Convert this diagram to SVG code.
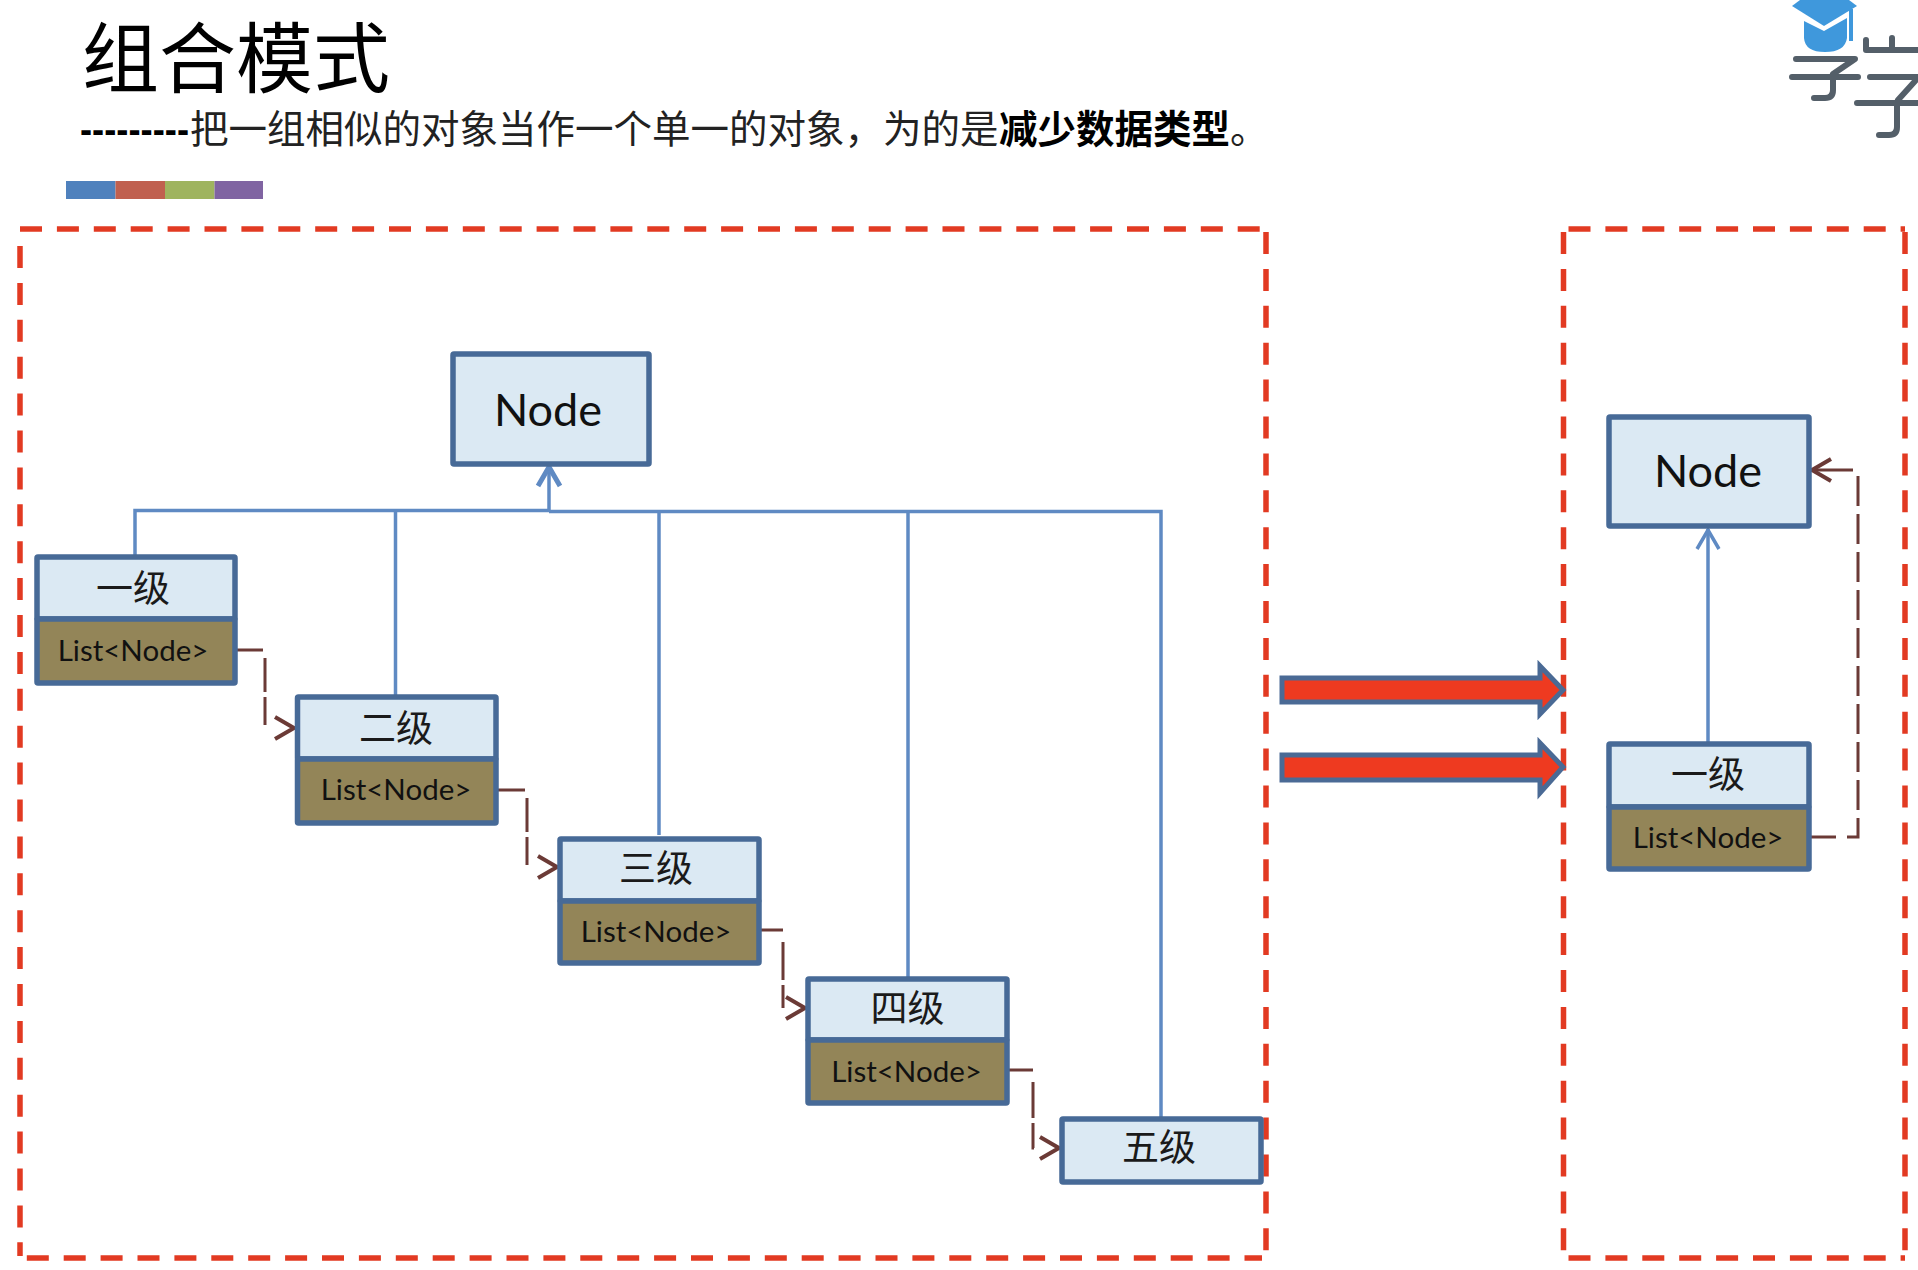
<svg xmlns="http://www.w3.org/2000/svg" width="1918" height="1270" viewBox="0 0 1918 1270">
<defs>
<style>
.bg{fill:#ffffff}
.box{fill:#dbe9f3;stroke:#476a97;stroke-width:5.5}
.list{fill:#938558;stroke:#476a97;stroke-width:5.5}
.cjk{font-family:"Noto Sans CJK SC","Noto Sans",sans-serif;font-size:37px;fill:#1a1a1a;text-anchor:middle;font-weight:400}
.lst{font-family:Lato,"Liberation Sans",sans-serif;font-size:29.500px;fill:#111;text-anchor:middle}
.nd{font-family:Lato,"Liberation Sans",sans-serif;font-size:45px;fill:#111;text-anchor:middle}
.red{fill:none;stroke:#e23a22;stroke-width:5.500;stroke-dasharray:22 14.9}
.blue{fill:none;stroke:#5f8ac3;stroke-width:3.500}
.brown{fill:none;stroke:#6b3a36;stroke-width:3}
.bar{fill:#ee3a20;stroke:#4a6a95;stroke-width:5}
.gr{fill:none;stroke:#545f69;stroke-width:6;stroke-linecap:round;stroke-linejoin:round}
</style>
<marker id="ab" markerUnits="userSpaceOnUse" markerWidth="30" markerHeight="30" refX="24" refY="14" orient="auto"><path d="M4 3 L23 14 L4 25" fill="none" stroke="#6b3a36" stroke-width="4"/></marker>
<marker id="au" markerUnits="userSpaceOnUse" markerWidth="30" markerHeight="30" refX="24" refY="14" orient="auto"><path d="M4 3 L23 14 L4 25" fill="none" stroke="#5f8ac3" stroke-width="3.500"/></marker>
<marker id="aut" markerUnits="userSpaceOnUse" markerWidth="30" markerHeight="30" refX="24" refY="14" orient="auto"><path d="M4 3 L23 14 L4 25" fill="none" stroke="#5f8ac3" stroke-width="5"/></marker>
</defs>
<rect class="bg" width="1918" height="1270"/>

<g id="title">
<text x="82" y="87" font-family="'Noto Sans CJK SC',sans-serif" font-size="77" fill="#000">组合模式</text>
<text y="143" font-family="'Noto Sans CJK SC',sans-serif" font-size="38.500" fill="#222"><tspan x="80" font-family="'Liberation Sans',sans-serif" font-weight="700" textLength="109" lengthAdjust="spacingAndGlyphs" fill="#000">---------</tspan><tspan x="190">把一组相似的对象当作一个单一的对象，为的是</tspan><tspan x="999" font-weight="700" fill="#000">减少数据类型</tspan><tspan>。</tspan></text>
</g>

<g id="palette">
<rect x="66" y="181" width="49.500" height="18" fill="#4f81bd"/>
<rect x="115.500" y="181" width="49.500" height="18" fill="#c0604f"/>
<rect x="165" y="181" width="49.500" height="18" fill="#9fb45f"/>
<rect x="214.500" y="181" width="48.500" height="18" fill="#8064a2"/>
</g>

<g id="logo">
<path d="M1792 6 L1800 0 L1849 0 L1857 6 L1824 26 Z" fill="#3f98dc"/>
<path d="M1804 21 L1824 31 L1847 18 L1847 38 Q1845 52 1825 52 Q1805 52 1804 38 Z" fill="#3f98dc"/>
<path d="M1851 9 L1851 41" fill="none" stroke="#3f98dc" stroke-width="4"/>
<path class="gr" d="M1796 59 L1855 59 L1833 74 M1792 77 L1858 77 M1833 77 L1833 90 Q1833 98 1825 98 L1814 98"/>
<path class="gr" d="M1866 40 L1866 50 M1892 38 L1892 50 M1868 50 L1918 50 M1870 77 L1918 77 M1917 79 L1898 100 M1857 103 L1918 103 M1897 103 L1897 127 Q1897 135 1889 135 L1879 135"/>
</g>

<g id="regions">
<path class="red" d="M20 229 L1266 229"/>
<path class="red" d="M1266 232 L1266 1258"/>
<path class="red" d="M20 1258 L1262 1258" stroke-dashoffset="-6.800"/>
<path class="red" d="M20 246 L20 1256"/>
<path class="red" d="M1563.500 232 L1563.500 1258"/>
<path class="red" d="M1905 232 L1905 1258"/>
<path class="red" d="M1563.500 229 L1905 229" stroke-dashoffset="-5"/>
<path class="red" d="M1563.500 1258 L1905 1258" stroke-dashoffset="-5"/>
</g>

<g id="connectors">
<path class="blue" d="M135 555 L135 510.500 L549 510.500"/>
<path class="blue" d="M395.500 695 L395.500 511"/>
<path class="blue" d="M549 511.500 L1161 511.500 L1161 1117"/>
<path class="blue" d="M659 835 L659 512"/>
<path class="blue" d="M908 977 L908 512"/>
<path class="blue" stroke-width="5" d="M549 511 L549 466" marker-end="url(#aut)"/>
<path class="blue" d="M1708 742 L1708 529" marker-end="url(#au)"/>
<path class="brown" stroke-dasharray="26 10 34 5 28 200" d="M237 650 L265 650 L265 728 L295 728" marker-end="url(#ab)"/>
<path class="brown" stroke-dasharray="27 10 34 5 28 200" d="M498 790 L527 790 L527 867 L558 867" marker-end="url(#ab)"/>
<path class="brown" stroke-dasharray="22 12 38 5 23 200" d="M761 930 L783 930 L783 1008 L806 1008" marker-end="url(#ab)"/>
<path class="brown" stroke-dasharray="24 12 36 5 26 200" d="M1009 1070 L1033 1070 L1033 1148 L1060 1148" marker-end="url(#ab)"/>
<path class="brown" d="M1811 837 L1836 837"/>
<path class="brown" stroke-dasharray="30 8" d="M1847 837 L1858 837 L1858 474"/>
<path class="brown" d="M1853 470 L1811 470" marker-end="url(#ab)"/>
</g>

<g id="equals">
<path class="bar" d="M1282 678 L1540 678 L1540 666 L1563 690 L1540 714 L1540 702 L1282 702 Z"/>
<path class="bar" d="M1282 755 L1540 755 L1540 743 L1563 767 L1540 793 L1540 780 L1282 780 Z"/>
</g>

<g id="node-root">
<rect class="box" x="453" y="354" width="196" height="110" rx="1"/>
<text class="nd" x="548" y="426">Node</text>
</g>

<g id="level-1">
<rect class="box" x="37" y="557" width="198" height="62" rx="1"/>
<rect class="list" x="37" y="619" width="198" height="64" rx="1"/>
<text class="cjk" x="133" y="602">一级</text>
<text class="lst" x="133" y="661">List&lt;Node&gt;</text>
</g>

<g id="level-2">
<rect class="box" x="297.500" y="697" width="198.500" height="62" rx="1"/>
<rect class="list" x="297.500" y="759" width="198.500" height="64" rx="1"/>
<text class="cjk" x="396" y="742">二级</text>
<text class="lst" x="396" y="800">List&lt;Node&gt;</text>
</g>

<g id="level-3">
<rect class="box" x="560" y="839" width="199" height="62" rx="1"/>
<rect class="list" x="560" y="901" width="199" height="62" rx="1"/>
<text class="cjk" x="656" y="882">三级</text>
<text class="lst" x="656" y="942">List&lt;Node&gt;</text>
</g>

<g id="level-4">
<rect class="box" x="808" y="979" width="199" height="61" rx="1"/>
<rect class="list" x="808" y="1040" width="199" height="63" rx="1"/>
<text class="cjk" x="907.500" y="1022">四级</text>
<text class="lst" x="906.500" y="1082">List&lt;Node&gt;</text>
</g>

<g id="level-5">
<rect class="box" x="1062" y="1119" width="199" height="63" rx="1"/>
<text class="cjk" x="1159" y="1161">五级</text>
</g>

<g id="node-right">
<rect class="box" x="1609" y="417" width="200" height="109" rx="1"/>
<text class="nd" x="1708" y="487">Node</text>
</g>

<g id="level-right">
<rect class="box" x="1609" y="744" width="200" height="63" rx="1"/>
<rect class="list" x="1609" y="807" width="200" height="62" rx="1"/>
<text class="cjk" x="1708" y="788">一级</text>
<text class="lst" x="1708" y="848">List&lt;Node&gt;</text>
</g>
</svg>
